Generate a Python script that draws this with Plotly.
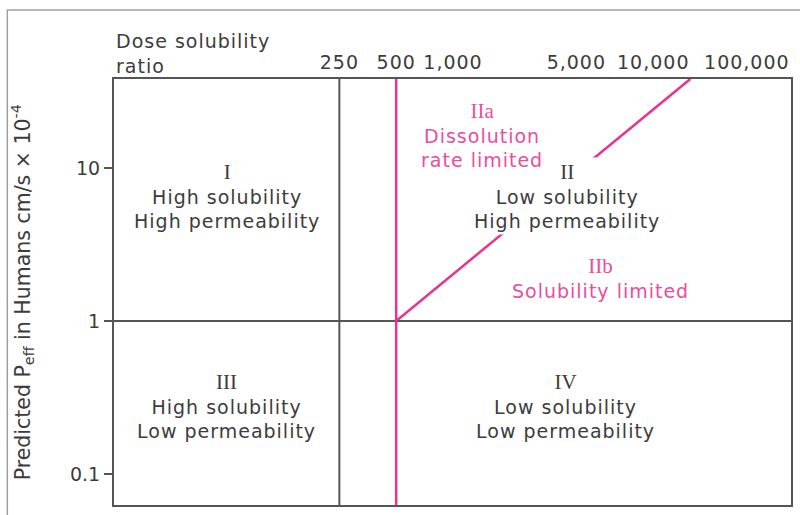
import plotly.graph_objects as go

# ---- data (schematic BCS-style map) ----
# The original top axis is schematic: label anchors follow the picture, the 100,000 label is compressed to the right end.
ratio_tick_values = [250, 500, 1000, 4500, 11500, 36000]
ratio_tick_text = ["250", "500", "1,000", "5,000", "10,000", "100,000"]
perm_tick_values = [0.1, 1, 10]
perm_tick_text = ["0.1", "1", "10"]

solubility_boundary = 250          # dose solubility ratio
dissolution_boundary = 500         # dose solubility ratio (magenta)
permeability_boundary = 1          # Peff x 1e-4 cm/s

diag_x = [500, 18070]              # IIa / IIb separating line
diag_y = [1, 38.2]

x_range_log = [1.2043, 4.7903]
y_range_log = [-1.2026, 1.5817]

DARK = "#3c3c3c"
LINE = "#555555"
MAGENTA = "#e8348d"
MAGENTA_TXT = "#ea4d9d"
FONT = "DejaVu Sans"
SERIF = "Liberation Serif"
FS = 19
LS = "letter-spacing:1px"


def wide(s):
    return f'<span style="{LS}">{s}</span>'


def roman(s):
    return f"<span style=\"font-family:'{SERIF}';font-size:21px\">{s}</span>"


fig = go.Figure()

fig.add_trace(go.Scatter(x=diag_x, y=diag_y, mode="lines",
                         line=dict(color=MAGENTA, width=2.5),
                         hoverinfo="skip", showlegend=False))

fig.add_vline(x=solubility_boundary, line=dict(color=LINE, width=2))
fig.add_hline(y=permeability_boundary, line=dict(color=LINE, width=2))
fig.add_vline(x=dissolution_boundary, line=dict(color=MAGENTA, width=2.5))


def ann(lines, x, y, color=DARK, bg=None, xanchor="center", numeral=None):
    parts = ([roman(numeral)] if numeral else []) + [wide(l) for l in lines]
    d = dict(text="<br>".join(parts), x=x, y=y, xref="paper", yref="paper", showarrow=False,
             xanchor=xanchor, yanchor="middle", align="center" if xanchor == "center" else "left",
             font=dict(family=FONT, size=FS, color=color))
    if bg:
        d["bgcolor"] = bg
        d["borderpad"] = 2
    fig.add_annotation(**d)


ann(["High solubility", "High permeability"], 0.1664, 0.7254, numeral="I")
ann(["Low solubility", "High permeability"], 0.6686, 0.7254, bg="white", numeral="II")
ann(["High solubility", "Low permeability"], 0.1664, 0.2324, numeral="III")
ann(["Low solubility", "Low permeability"], 0.667, 0.2324, numeral="IV")
ann(["Dissolution", "rate limited"], 0.5435, 0.8685, color=MAGENTA_TXT, numeral="IIa")
ann(["Solubility limited"], 0.7187, 0.5329, color=MAGENTA_TXT, numeral="IIb")
ann(["Dose solubility", "ratio"], 0.0, 1.061, xanchor="left")

fig.add_annotation(text="Predicted P<sub>eff</sub> in Humans cm/s × 10<sup>-4</sup>",
                   x=-0.1355, y=0.5, xref="paper", yref="paper", showarrow=False,
                   textangle=-90, xanchor="center", yanchor="middle",
                   font=dict(family=FONT, size=20.5, color=DARK))

# outer light frame
fig.add_shape(type="rect", xref="paper", yref="paper",
              x0=-0.1576, x1=1.3, y0=-0.3, y1=1.162,
              line=dict(color="#a0a0a0", width=1.5), fillcolor="rgba(0,0,0,0)", layer="below")

fig.update_xaxes(type="log", range=x_range_log, side="top",
                 tickvals=ratio_tick_values, ticktext=[wide(t) for t in ratio_tick_text],
                 tickangle=0, ticks="", showgrid=False, zeroline=False,
                 showline=True, mirror=True, linecolor=LINE, linewidth=2,
                 tickfont=dict(family=FONT, size=FS, color=DARK))
fig.update_yaxes(type="log", range=y_range_log,
                 tickvals=perm_tick_values, ticktext=perm_tick_text,
                 ticks="outside", ticklen=8, tickcolor=LINE, tickwidth=1.5,
                 showgrid=False, zeroline=False,
                 showline=True, mirror=True, linecolor=LINE, linewidth=2,
                 tickfont=dict(family=FONT, size=FS, color=DARK))

fig.update_layout(width=800, height=515,
                  margin=dict(l=114, r=7, t=79, b=10),
                  paper_bgcolor="white", plot_bgcolor="white",
                  showlegend=False)

fig.write_html("out.html", config={"displayModeBar": False},
               post_script="document.body.style.margin='0';")
